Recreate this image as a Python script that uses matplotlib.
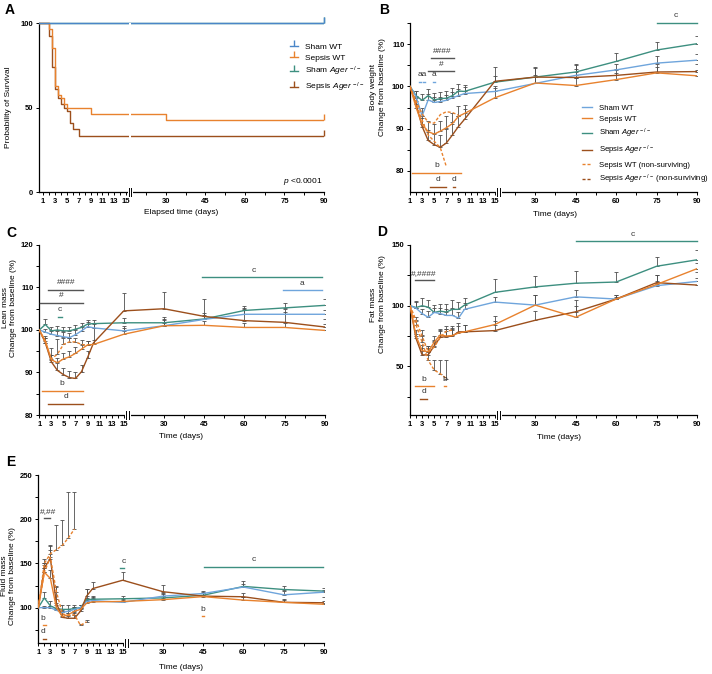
import numpy as np
import matplotlib.pyplot as plt
from matplotlib.lines import Line2D
from matplotlib.transforms import Bbox, TransformedBbox

plt.rcParams['font.family'] = ['Liberation Sans', 'DejaVu Sans']
plt.rcParams['mathtext.fontset'] = 'custom'
plt.rcParams['mathtext.rm'] = 'Liberation Sans'
plt.rcParams['mathtext.it'] = 'Liberation Sans:italic'
plt.rcParams['mathtext.bf'] = 'Liberation Sans:bold'

# ---------------- data ----------------
days = [1, 2, 3, 4, 5, 6, 7, 8, 9, 10, 15, 30, 45, 60, 75, 90]

# A - survival (Kaplan-Meier steps)
surv_t_sham = [0, 90]
surv_sham = [100, 100]
surv_t_sepsis_wt = [0, 2, 2.5, 3, 3.5, 4, 4.5, 5, 9, 30, 90]
surv_sepsis_wt = [100, 96.3, 85.2, 63.0, 57.4, 55.5, 51.8, 50.0, 46.3, 42.6, 42.6]
surv_t_sepsis_ko = [0, 2, 2.5, 3, 3.5, 4, 4.5, 5, 5.5, 6, 7, 90]
surv_sepsis_ko = [100, 92.6, 74.0, 61.0, 55.5, 52.0, 50.0, 48.1, 40.7, 37.0, 33.3, 33.3]

# B - body weight (% of baseline)
bw_sham_wt = [100, 97.6, 93.0, 96.8, 96.2, 96.4, 96.7, 97.3, 97.8, 98.3, 98.8, 100.7, 102.6, 103.9, 105.5, 106.2]
bw_sham_ko = [100, 97.8, 96.7, 97.8, 96.8, 97.1, 97.2, 97.8, 98.9, 98.8, 101.0, 102.2, 103.4, 105.9, 108.6, 110.1]
bw_sepsis_wt = [100, 95.0, 91.0, 89.3, 88.7, 89.4, 90.2, 91.2, 92.9, 93.6, 97.3, 100.8, 100.2, 101.6, 103.2, 102.5]
bw_sepsis_ko = [100, 95.8, 90.5, 87.2, 86.2, 85.6, 86.6, 88.5, 90.5, 92.2, 101.2, 102.2, 102.1, 102.6, 103.4, 103.5]
bw_sham_wt_err = [0, 1.2, 1.8, 1.5, 1.2, 1.2, 1.3, 1.3, 1.5, 1.5, 1.2, 1.5, 1.5, 1.4, 1.6, 1.5]
bw_sham_ko_err = [0, 1.2, 1.5, 1.5, 1.6, 1.6, 1.7, 1.8, 1.6, 1.6, 1.5, 2.2, 1.8, 2.0, 1.8, 1.9]
bw_sepsis_wt_err = [0, 1.5, 2.0, 2.5, 2.3, 2.5, 2.7, 2.5, 2.5, 2.0, 2.3, 1.8, 1.8, 1.5, 1.5, 1.3]
bw_sepsis_ko_err = [0, 1.5, 2.0, 2.5, 2.8, 3.0, 3.2, 3.0, 2.5, 2.5, 3.5, 2.3, 3.0, 1.5, 1.8, 1.8]
bw_ns_days_wt = [1, 2, 3, 4, 5, 6, 7]
bw_sepsis_wt_ns = [100, 96.0, 92.0, 88.5, 87.0, 85.5, 81.0]
bw_ns_days_ko = [1, 2, 3, 4, 5, 6, 7, 8, 9]
bw_sepsis_ko_ns = [100, 96.5, 93.5, 91.5, 91.3, 93.3, 94.0, 93.8, 93.2]

# C - lean mass
lm_sham_wt = [100, 99.5, 99.0, 98.7, 98.4, 98.2, 98.9, 99.8, 100.8, 100.5, 99.8, 101.0, 102.5, 103.7, 103.7, 103.7]
lm_sham_ko = [100, 101.3, 99.8, 100.0, 99.8, 99.8, 100.2, 100.6, 101.4, 101.5, 101.7, 101.7, 102.6, 104.6, 105.2, 105.8]
lm_sepsis_wt = [100, 97.5, 93.0, 92.3, 93.2, 93.7, 94.5, 95.5, 96.5, 96.6, 99.0, 101.0, 101.1, 100.6, 100.6, 99.9]
lm_sepsis_ko = [100, 97.0, 92.5, 90.5, 89.5, 88.8, 88.6, 90.2, 93.5, 97.0, 104.5, 105.0, 103.2, 102.2, 101.8, 100.7]
lm_sham_wt_err = [0, 0.8, 1.0, 1.1, 1.2, 1.0, 1.1, 1.2, 1.1, 1.2, 1.2, 1.3, 1.5, 1.3, 1.3, 1.0]
lm_sham_ko_err = [0, 1.3, 1.0, 0.9, 0.8, 1.0, 1.0, 1.1, 1.0, 0.9, 1.1, 1.4, 1.0, 1.1, 1.1, 1.6]
lm_sepsis_wt_err = [0, 1.0, 1.2, 1.0, 1.5, 1.3, 1.5, 1.0, 1.0, 1.0, 1.5, 1.5, 1.0, 1.0, 1.0, 1.5]
lm_sepsis_ko_err = [0, 1.0, 1.5, 2.0, 1.5, 1.5, 1.5, 1.5, 1.5, 4.7, 4.3, 4.0, 4.0, 3.0, 2.5, 2.0]
lm_ns_days_wt = [1, 2, 3, 4, 5, 6, 7, 8, 9]
lm_sepsis_wt_ns = [100, 97.0, 93.2, 94.3, 96.6, 97.2, 97.2, 96.6, 96.4]
lm_sepsis_wt_ns_err = [0, 1.0, 2.5, 3.5, 1.5, 1.0, 1.0, 1.0, 1.0]

# D - fat mass
fm_sham_wt = [100, 98.0, 93.5, 90.5, 94.5, 93.5, 92.0, 92.0, 89.8, 97.0, 103.0, 100.5, 107.3, 105.5, 116.5, 120.0]
fm_sham_ko = [100, 98.5, 100.0, 98.8, 94.5, 95.5, 94.8, 97.0, 97.0, 100.5, 111.0, 115.5, 118.5, 119.5, 132.5, 137.8]
fm_sepsis_wt = [100, 75.0, 63.0, 62.0, 70.0, 76.0, 75.0, 75.5, 77.5, 78.5, 84.5, 100.5, 90.5, 105.5, 117.5, 130.5]
fm_sepsis_ko = [100, 73.0, 59.5, 59.5, 67.0, 74.0, 74.5, 75.0, 78.5, 78.5, 79.5, 88.0, 95.0, 105.5, 119.0, 117.0]
fm_sham_wt_err = [0, 5, 4, 5, 4, 5, 5, 6, 5, 5, 4, 8, 6, 2, 4, 8]
fm_sham_ko_err = [0, 5, 6, 6, 6, 6, 7, 8, 6, 6, 11, 9, 10, 8, 8, 8]
fm_sepsis_wt_err = [0, 5, 5, 5, 5, 5, 6, 6, 6, 6, 7, 8, 9, 3, 8, 5]
fm_sepsis_ko_err = [0, 4, 6, 6, 5, 6, 6, 6, 7, 6, 8, 8, 10, 3, 6, 6]
fm_ns_days_wt = [1, 2, 3, 4, 5, 6, 7]
fm_sepsis_wt_ns = [100, 84, 70, 55, 47, 44, 40]
fm_sepsis_wt_ns_err = [0, 3, 6, 8, 8, 11, 15]
fm_ns_days_ko = [1, 2, 3, 4, 5, 6, 7, 8]
fm_sepsis_ko_ns = [100, 88, 75, 62, 66, 74, 79, 80]
fm_sepsis_ko_ns_err = [0, 3, 5, 5, 5, 5, 4, 3]

# E - fluid mass
fl_sham_wt = [100, 100, 100, 97, 94.5, 96, 98, 100, 107, 108, 106, 113, 116, 123.3, 114.5, 117.5]
fl_sham_ko = [100, 111, 102, 99, 98, 98, 99, 100, 109, 109.5, 110, 111, 114, 124, 120.5, 118.7]
fl_sepsis_wt = [100, 140, 133, 100, 90, 92, 96, 98, 105, 106.5, 107, 109, 112.5, 108.5, 106, 103.8]
fl_sepsis_ko = [100, 145, 155.5, 105, 89, 88, 88, 96, 113, 121.5, 131, 118, 113, 112.3, 106, 105.5]
fl_sham_wt_err = [0, 2, 2, 2, 3, 3, 3, 3, 4, 3, 3, 3, 3, 3, 4, 3]
fl_sham_ko_err = [0, 7, 6, 4, 5, 5, 4, 3, 12, 4, 3, 4, 4, 6, 4, 4]
fl_sepsis_wt_err = [0, 8, 10, 10, 6, 6, 5, 5, 5, 5, 4, 4, 4, 4, 3, 4]
fl_sepsis_ko_err = [0, 5, 14, 20, 6, 6, 6, 5, 8, 8, 9, 8, 4, 4, 4, 6]
fl_ns_days_wt = [1, 2, 3, 4, 5, 6, 7]
fl_sepsis_wt_ns = [100, 150, 161, 165.5, 170.5, 179, 189]
fl_sepsis_wt_ns_err = [0, 5, 10, 28, 29, 52, 42]
fl_ns_days_ko = [1, 2, 3, 4, 5, 6, 7, 8, 9]
fl_sepsis_ko_ns = [100, 140, 157, 118, 93, 91, 92, 80, 84]
fl_sepsis_ko_ns_err = [0, 5, 8, 5, 3, 3, 3, 2, 2]

# tick labels
x_major = [1, 3, 5, 7, 9, 11, 13, 15, 30, 45, 60, 75, 90]
x_minor = [2, 4, 6, 8, 10, 12, 14, 22.5, 37.5, 52.5, 67.5, 82.5]

lab_sham_wt = 'Sham WT'
lab_sepsis_wt = 'Sepsis WT'
lab_sham_ko = r'Sham $\mathit{Ager}^{\,-/-}$'
lab_sepsis_ko = r'Sepsis $\mathit{Ager}^{\,-/-}$'
lab_wt_ns = 'Sepsis WT (non-surviving)'
lab_ko_ns = r'Sepsis $\mathit{Ager}^{\,-/-}$ (non-surviving)'

# colours
C_SHAM_WT = '#6fa5dc'
C_SHAM_WT_A = '#4a86c8'
C_SEPSIS_WT = '#e8822e'
C_SHAM_KO = '#3d8f80'
C_SEPSIS_KO = '#9c4f1c'
C_SIG = '#555555'
C_ERR = '#4d4d4d'
COL = {'a': C_SHAM_WT, 'b': C_SEPSIS_WT, 'c': C_SHAM_KO, 'd': C_SEPSIS_KO, 'g': C_SIG}

# significance bars: (x0, x1, y, colour key) and labels: (x, y, text)
sig_lines_b = [(75, 90, 115.0, 'c'), (4.4, 8.2, 106.7, 'g'), (4.05, 8.2, 103.7, 'g'),
               (2.55, 2.85, 101.1, 'a'), (3.15, 3.45, 101.1, 'a'), (4.85, 5.15, 101.1, 'a'),
               (1.4, 9.4, 79.6, 'b'), (4.3, 7.0, 76.3, 'd'), (8.05, 8.35, 76.3, 'd')]
sig_text_b = [(82, 116.7, 'c'), (6.3, 108.3, '####'), (6.1, 105.2, '#'), (3.0, 102.7, 'aa'),
              (5.0, 102.7, 'a'), (5.4, 81.3, 'b'), (5.6, 78.0, 'd'), (8.2, 78.0, 'd')]
sig_lines_c = [(44, 88.8, 112.5, 'c'), (74.5, 88.8, 109.4, 'a'), (2.4, 8.3, 109.3, 'g'),
               (1.1, 8.3, 106.4, 'g'), (4.1, 4.7, 103.1, 'c'), (1.5, 8.3, 85.7, 'b'),
               (2.4, 8.3, 82.7, 'd')]
sig_text_c = [(63.5, 114.1, 'c'), (81.5, 111.0, 'a'), (5.4, 111.2, '####'), (4.7, 108.0, '#'),
              (4.4, 104.9, 'c'), (4.7, 87.3, 'b'), (5.4, 84.3, 'd')]
sig_lines_d = [(45, 90, 153.6, 'c'), (1.8, 4.9, 120.9, 'g'), (1.8, 4.9, 33.5, 'b'),
               (6.6, 6.9, 33.5, 'b'), (2.7, 3.8, 23.4, 'd')]
sig_text_d = [(66, 158.8, 'c'), (3.3, 126.5, '#,####'), (3.3, 39.6, 'b'), (6.7, 39.6, 'b'),
              (3.3, 29.4, 'd')]
sig_lines_e = [(2.0, 2.9, 201.5, 'g'), (14.6, 15.4, 145, 'c'), (45.3, 89.5, 146.2, 'c'),
               (1.8, 2.2, 80.5, 'b'), (1.8, 2.2, 64.7, 'd'), (44.6, 45.4, 90, 'b')]
sig_text_e = [(2.65, 209, '#,##'), (15.2, 152.5, 'c'), (64, 154, 'c'), (1.8, 88, 'b'),
              (1.8, 73, 'd'), (45, 97.4, 'b')]

# ---------------- helpers ----------------
K = 0.445  # compression of the 15-90 day segment


def fwd(d):
    d = np.asarray(d, dtype=float)
    return np.where(d <= 15, d, 15 + (d - 15) * K)


def inv(u):
    u = np.asarray(u, dtype=float)
    return np.where(u <= 15, u, 15 + (u - 15) / K)


def setup(ax, ylim, yticks, yminor, xleft=1):
    ax.set_xscale('function', functions=(fwd, inv))
    ax.set_xlim(xleft, 90)
    ax.set_ylim(*ylim)
    ax.set_xticks(x_major, [str(v) for v in x_major])
    ax.set_xticks(x_minor, minor=True)
    ax.set_yticks(yticks, [str(v) for v in yticks])
    ax.set_yticks(yminor, minor=True)
    ax.tick_params(which='both', direction='out', length=2.5, width=0.7, labelsize=5.5, pad=1.5)
    for lbl in ax.get_xticklabels() + ax.get_yticklabels():
        lbl.set_fontweight('bold')
    for s in ('top', 'right'):
        ax.spines[s].set_visible(False)
    for s in ('left', 'bottom'):
        ax.spines[s].set_linewidth(0.9)
    # axis break marks
    tr = ax.get_xaxis_transform()
    ax.plot([15.9, 16.9], [0, 0], color='white', lw=2.2, transform=tr, clip_on=False, zorder=5)
    for xb in (15.9, 16.9):
        ax.plot([xb, xb], [-0.022, 0.022], color='black', lw=0.7, transform=tr,
                clip_on=False, zorder=6)


def series(ax, x, y, err, color, dashed=False):
    x = np.asarray(x, dtype=float)
    y = np.asarray(y, dtype=float)
    err = np.asarray(err, dtype=float)
    m = err > 0
    ax.errorbar(x[m], y[m], yerr=[np.zeros(m.sum()), err[m]], fmt='none', ecolor=C_ERR,
                elinewidth=0.6, capsize=1.3, capthick=0.6, zorder=2)
    if dashed:
        ax.plot(x, y, color=color, lw=1.0, dashes=(2.2, 1.4), zorder=3)
    else:
        ax.plot(x, y, color=color, lw=1.0, zorder=3)


def annotate(ax, lines, texts):
    for x0, x1, y, c in lines:
        ax.plot([x0, x1], [y, y], color=COL[c], lw=1.0, clip_on=False, zorder=4)
    for x, y, s in texts:
        ax.text(x, y, s, ha='center', va='center', fontsize=6, color='#333333', clip_on=False)


def labels(ax, ylabel, ylab_xy, xlabel, xlab_xy):
    ax.set_ylabel(ylabel, fontsize=6, linespacing=1.25)
    ax.yaxis.set_label_coords(*ylab_xy)
    ax.set_xlabel(xlabel, fontsize=6)
    ax.xaxis.set_label_coords(*xlab_xy)


fig = plt.figure(figsize=(7.12, 6.74), dpi=100)
W, H = 712.0, 674.0


def add_axes(x0, x1, ytop, ybot):
    return fig.add_axes([x0 / W, 1 - ybot / H, (x1 - x0) / W, (ybot - ytop) / H])


axA = add_axes(39, 324, 23, 192)
axB = add_axes(410, 697, 23, 192)
axC = add_axes(39.3, 325, 245, 415)
axD = add_axes(410, 697, 245, 415)
axE = add_axes(38.3, 324, 475, 643)

# ---------------- A ----------------
setup(axA, (0, 100), [0, 50, 100], [], xleft=0.3)
clipbox = TransformedBbox(Bbox([[0, -0.05], [1, 1.05]]), axA.transAxes)
for t, s, c in [(surv_t_sham, surv_sham, C_SHAM_KO), (surv_t_sepsis_ko, surv_sepsis_ko, C_SEPSIS_KO),
                (surv_t_sepsis_wt, surv_sepsis_wt, C_SEPSIS_WT), (surv_t_sham, surv_sham, C_SHAM_WT_A)]:
    ln, = axA.step(t, s, where='post', color=c, lw=1.0, zorder=3)
    ln.set_clip_box(clipbox)
    axA.plot([t[-1]], [s[-1]], color=c, marker=2, ms=4, mew=1.0, clip_on=False, zorder=3)
axA.axvspan(15.9, 16.9, color='white', zorder=4, lw=0)
axA.text(0.995, 0.03, r'$\mathit{p}$ <0.0001', transform=axA.transAxes, ha='right',
         va='bottom', fontsize=6)
hA = [Line2D([], [], color=c, lw=1.0, marker=2, ms=4, mew=1.0)
      for c in (C_SHAM_WT_A, C_SEPSIS_WT, C_SHAM_KO, C_SEPSIS_KO)]
axA.legend(hA, [lab_sham_wt, lab_sepsis_wt, lab_sham_ko, lab_sepsis_ko], loc='upper left',
           bbox_to_anchor=(0.88, 0.88), borderaxespad=0, borderpad=0, frameon=False,
           fontsize=6, handlelength=1.0, handletextpad=0.8, labelspacing=0.35)
labels(axA, 'Probability of Survival', (-0.095, 0.5), 'Elapsed time (days)', (0.498, -0.10))

# ---------------- B ----------------
setup(axB, (75, 115), [80, 90, 100, 110], [85, 95, 105, 115])
series(axB, days, bw_sham_ko, bw_sham_ko_err, C_SHAM_KO)
series(axB, days, bw_sham_wt, bw_sham_wt_err, C_SHAM_WT)
series(axB, days, bw_sepsis_ko, bw_sepsis_ko_err, C_SEPSIS_KO)
series(axB, days, bw_sepsis_wt, bw_sepsis_wt_err, C_SEPSIS_WT)
series(axB, bw_ns_days_ko, bw_sepsis_ko_ns, [0] * len(bw_ns_days_ko), C_SEPSIS_WT, dashed=True)
series(axB, bw_ns_days_wt, bw_sepsis_wt_ns, [0] * len(bw_ns_days_wt), C_SEPSIS_WT, dashed=True)
annotate(axB, sig_lines_b, sig_text_b)
hB = [Line2D([], [], color=C_SHAM_WT, lw=1.0), Line2D([], [], color=C_SEPSIS_WT, lw=1.0),
      Line2D([], [], color=C_SHAM_KO, lw=1.0), Line2D([], [], color=C_SEPSIS_KO, lw=1.0),
      Line2D([], [], color=C_SEPSIS_WT, lw=1.0, dashes=(2.2, 1.4)),
      Line2D([], [], color=C_SEPSIS_KO, lw=1.0, dashes=(2.2, 1.4))]
axB.legend(hB, [lab_sham_wt, lab_sepsis_wt, lab_sham_ko, lab_sepsis_ko, lab_wt_ns, lab_ko_ns],
           loc='upper left', bbox_to_anchor=(0.6, 0.52), borderaxespad=0, borderpad=0,
           frameon=False, fontsize=5.6, handlelength=1.3, handletextpad=0.8, labelspacing=0.5)
labels(axB, 'Body weight\nChange from baseline (%)', (-0.085, 0.62), 'Time (days)', (0.505, -0.115))

# ---------------- C ----------------
setup(axC, (80, 120), [80, 90, 100, 110, 120], [85, 95, 105, 115])
series(axC, days, lm_sham_ko, lm_sham_ko_err, C_SHAM_KO)
series(axC, days, lm_sham_wt, lm_sham_wt_err, C_SHAM_WT)
series(axC, days, lm_sepsis_ko, lm_sepsis_ko_err, C_SEPSIS_KO)
series(axC, days, lm_sepsis_wt, lm_sepsis_wt_err, C_SEPSIS_WT)
series(axC, lm_ns_days_wt, lm_sepsis_wt_ns, lm_sepsis_wt_ns_err, C_SEPSIS_WT, dashed=True)
annotate(axC, sig_lines_c, sig_text_c)
labels(axC, 'Lean mass\nChange from baseline (%)', (-0.078, 0.63), 'Time (days)', (0.497, -0.105))

# ---------------- D ----------------
setup(axD, (10, 150), [50, 100, 150], [25, 75, 125])
series(axD, days, fm_sham_ko, fm_sham_ko_err, C_SHAM_KO)
series(axD, days, fm_sham_wt, fm_sham_wt_err, C_SHAM_WT)
series(axD, days, fm_sepsis_ko, fm_sepsis_ko_err, C_SEPSIS_KO)
series(axD, days, fm_sepsis_wt, fm_sepsis_wt_err, C_SEPSIS_WT)
series(axD, fm_ns_days_ko, fm_sepsis_ko_ns, fm_sepsis_ko_ns_err, C_SEPSIS_WT, dashed=True)
series(axD, fm_ns_days_wt, fm_sepsis_wt_ns, fm_sepsis_wt_ns_err, C_SEPSIS_WT, dashed=True)
annotate(axD, sig_lines_d, sig_text_d)
labels(axD, 'Fat mass\nChange from baseline (%)', (-0.085, 0.65), 'Time (days)', (0.519, -0.11))

# ---------------- E ----------------
setup(axE, (60, 250), [100, 150, 200, 250], [75, 125, 175, 225])
series(axE, days, fl_sham_ko, fl_sham_ko_err, C_SHAM_KO)
series(axE, days, fl_sham_wt, fl_sham_wt_err, C_SHAM_WT)
series(axE, days, fl_sepsis_ko, fl_sepsis_ko_err, C_SEPSIS_KO)
series(axE, days, fl_sepsis_wt, fl_sepsis_wt_err, C_SEPSIS_WT)
series(axE, fl_ns_days_ko, fl_sepsis_ko_ns, fl_sepsis_ko_ns_err, C_SEPSIS_WT, dashed=True)
series(axE, fl_ns_days_wt, fl_sepsis_wt_ns, fl_sepsis_wt_ns_err, C_SEPSIS_WT, dashed=True)
annotate(axE, sig_lines_e, sig_text_e)
labels(axE, 'Fluid mass\nChange from baseline (%)', (-0.078, 0.40), 'Time (days)', (0.50, -0.125))

# panel letters
for s, x, y in [('A', 5, 3), ('B', 379, 3), ('C', 6, 226), ('D', 377, 225), ('E', 6, 455)]:
    fig.text(x / W, 1 - y / H, s, fontsize=10, fontweight='bold', va='top', ha='left')

fig.savefig('out.png', dpi=100)
